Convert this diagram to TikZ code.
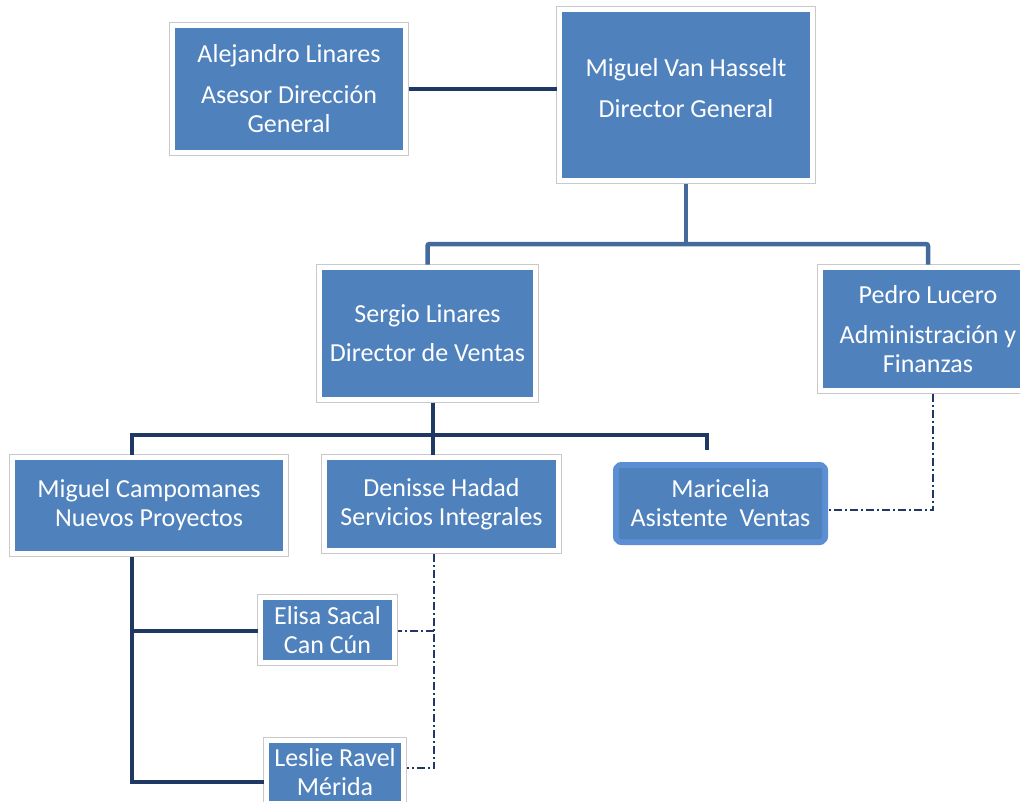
\documentclass[tikz,border=0pt]{standalone}
\usepackage{fontspec}
\setmainfont{Carlito}
\definecolor{boxblue}{HTML}{4F81BD}
\definecolor{rimgray}{HTML}{C9C9C9}
\definecolor{rimblue}{HTML}{5B8ED2}
\definecolor{navy}{HTML}{1F3864}
\definecolor{steel}{HTML}{44699B}
\tikzset{
    orgbox/.style={fill=boxblue, text=white, align=center, inner sep=0pt, outer sep=5.5pt,
        font=\fontsize{26}{29}\selectfont,
        preaction={draw=rimgray, line width=12pt},
        preaction={draw=white, line width=10.5pt}},
    maribox/.style={fill=boxblue, text=white, align=center, inner sep=0pt, outer sep=6pt,
        font=\fontsize{26}{29}\selectfont, rounded corners=2pt,
        preaction={draw=rimblue, line width=12pt, line join=round}},
    navyline/.style={draw=navy, line width=3.5pt},
    steelline/.style={draw=steel, line width=4.5pt, rounded corners=2pt},
    dashline/.style={draw=navy, line width=2pt, dash pattern=on 8pt off 3pt on 2pt off 3pt}
}
\begin{document}
\begin{tikzpicture}[x=1pt, y=-1pt]
            \clip (0,0) rectangle (1020,801);
            \fill[white] (0,0) rectangle (1020,801);

            \node[orgbox, minimum width=228, minimum height=122] (aleja) at (289, 89) {Alejandro Linares\\[12pt] Asesor Dirección\\ General};
            \node[orgbox, minimum width=248, minimum height=166, text depth=14] (director) at (686, 95) {Miguel Van Hasselt\\[12pt] Director General};

            \node[orgbox, minimum width=211, minimum height=127] (ventas) at (427.5, 333.5) {Sergio Linares\\[10pt] Director de Ventas};
            \node[orgbox, minimum width=210, minimum height=118] (finanzas) at (928, 329) {Pedro Lucero\\[11pt] Administración y\\ Finanzas};

            \node[orgbox, minimum width=268, minimum height=91] (proyectos) at (149, 505.5) {Miguel Campomanes\\ Nuevos Proyectos};
            \node[orgbox, minimum width=229, minimum height=88] (servicios) at (441.5, 504) {Denisse Hadad\\ Servicios Integrales};
            \node[maribox, minimum width=203, minimum height=71] (asistente) at (720.5, 503.5) {Maricelia\\ Asistente\ \ Ventas};

            \node[orgbox, minimum width=129, minimum height=60] (cancun) at (327.5, 630) {Elisa Sacal\\ Can Cún};
            \node[orgbox, minimum width=132, minimum height=58] (merida) at (335, 772) {Leslie Ravel\\ Mérida};

            % joints
            \coordinate (dirjoin) at (686, 244);
            \coordinate (ventjoin) at (433, 435);
            \coordinate (leftstem) at (132, 435);
            \coordinate (maristub) at (707, 450);
            \coordinate (npbottom) at (132, 782);
            \coordinate (npmid) at (132, 631);
            \coordinate (sibottom) at (434, 768);
            \coordinate (simid) at (434, 631);
            \coordinate (pfcorner) at (933, 510);

            \draw[navyline] (aleja.east) -- (aleja.east -| director.west);

            \draw[steelline] (director.south) -- (dirjoin);
            \draw[steelline] (ventas.north) |- (dirjoin) -| (finanzas.north);

            \draw[navyline] (ventjoin |- ventas.south) -- (ventjoin);
            \draw[navyline] (leftstem |- proyectos.north) -- (leftstem) -| (maristub);
            \draw[navyline] (ventjoin) -- (ventjoin |- servicios.north);

            \draw[navyline] (npbottom |- proyectos.south) -- (npbottom) -- (npbottom -| merida.west);
            \draw[navyline] (npmid) -- (npmid -| cancun.west);

            \draw[dashline] (simid |- servicios.south) -- (sibottom) -- (sibottom -| merida.east);
            \draw[dashline] (simid) -- (simid -| cancun.east);

            \draw[dashline] (pfcorner |- finanzas.south) -- (pfcorner) -- (pfcorner -| asistente.east);
\end{tikzpicture}
\end{document}
